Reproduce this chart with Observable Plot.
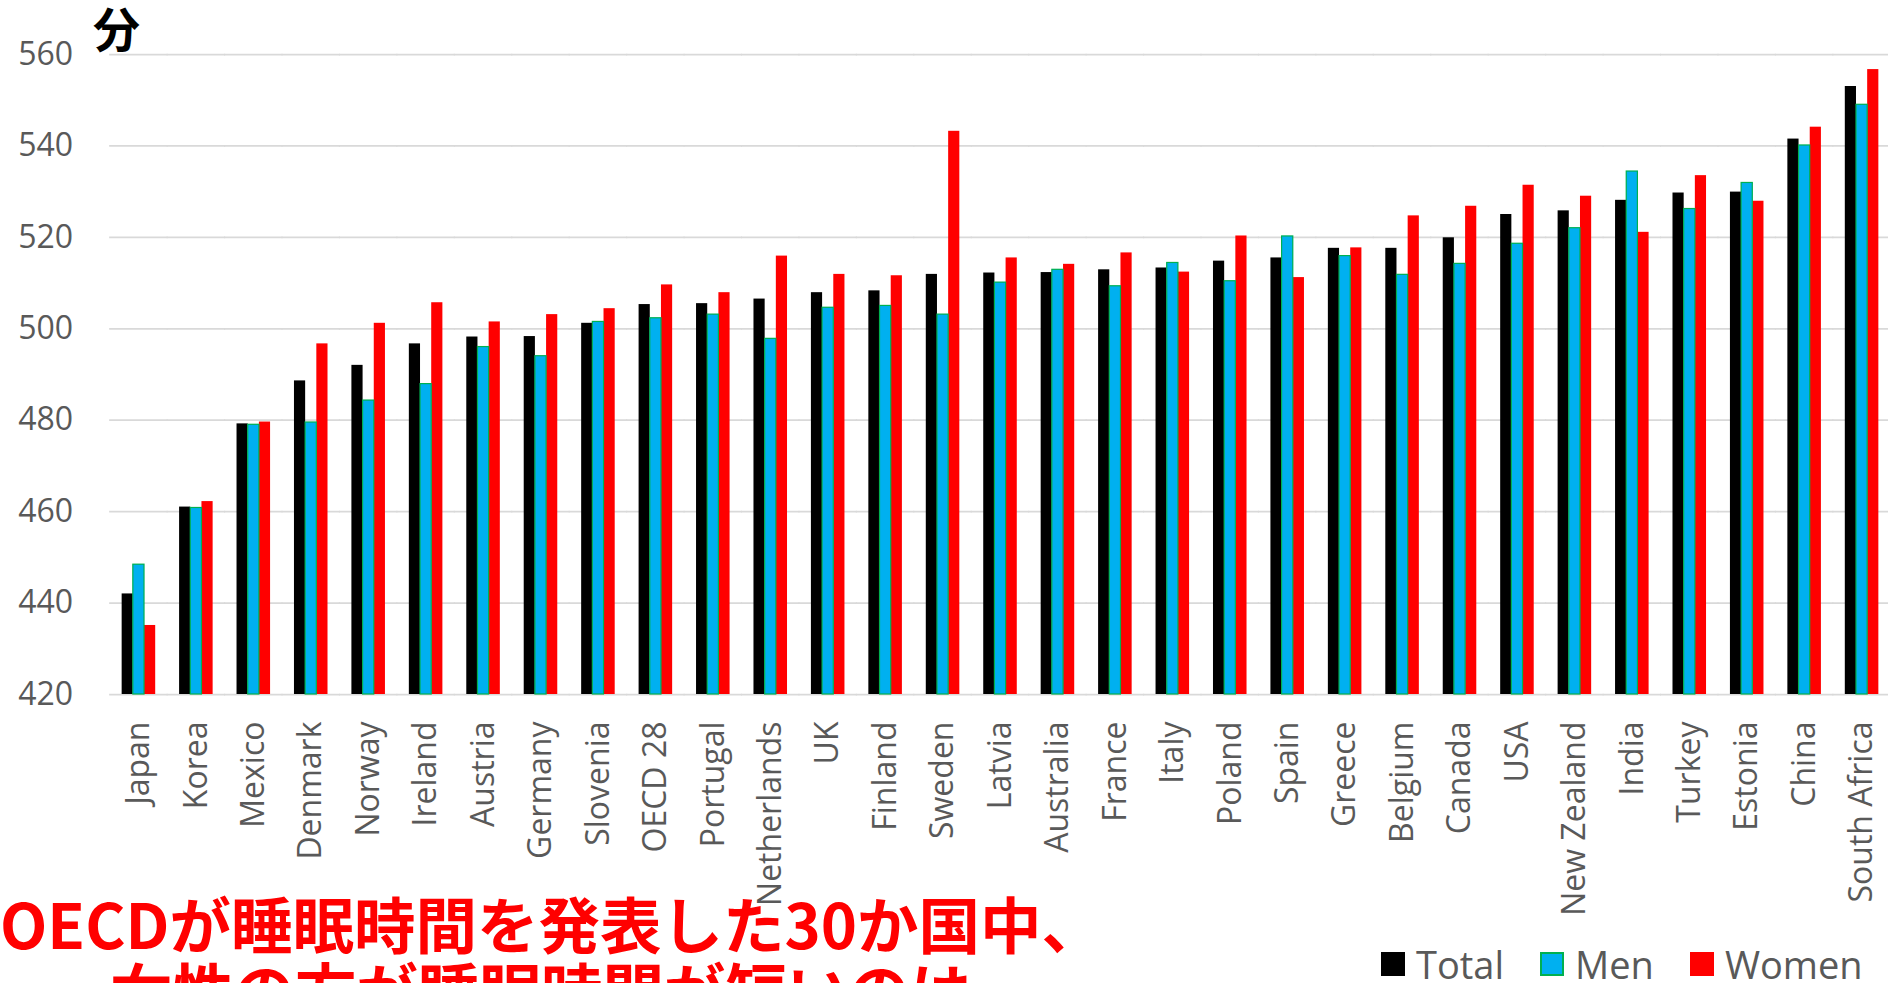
<!DOCTYPE html>
<html>
<head>
<meta charset="utf-8">
<script src="https://cdn.jsdelivr.net/npm/d3@7"></script>
<script src="https://cdn.jsdelivr.net/npm/@observablehq/plot@0.6"></script>
<style>
html, body { margin: 0; padding: 0; background: #fff; overflow: hidden; }
#wrap { position: relative; width: 1888px; height: 983px; overflow: hidden; background: #fff; }
#chart { position: absolute; left: 0; top: 0; }
.unit { position: absolute; left: 93px; top: 3px; font-family: "Noto Sans CJK JP", sans-serif; font-weight: 700; font-size: 47px; line-height: 47px; color: #000; }
.headline { position: absolute; left: 0; top: 890px; width: 1060px; text-align: center; font-family: "Noto Sans CJK JP", sans-serif; font-weight: 700; font-size: 61.5px; line-height: 66px; color: #ff0000; white-space: nowrap; }
.headline .l2 { padding-left: 22px; }
.legend { position: absolute; left: 1381px; top: 945px; display: flex; align-items: center; font-family: "Open Sans", sans-serif; font-size: 38px; line-height: 38px; color: #595959; white-space: nowrap; }
.legend .item { display: flex; align-items: center; margin-right: 36px; }
.legend .item:last-child { margin-right: 0; }
.legend .sw { width: 24px; height: 24px; box-sizing: border-box; margin-right: 11px; }
</style>
</head>
<body>
<div id="wrap">
  <div id="chart"></div>
  <div class="unit">分</div>
  <div class="headline" id="headline"></div>
  <div class="legend" id="legend"></div>
</div>
<script>
const countries = ["Japan","Korea","Mexico","Denmark","Norway","Ireland","Austria","Germany","Slovenia","OECD 28","Portugal","Netherlands","UK","Finland","Sweden","Latvia","Australia","France","Italy","Poland","Spain","Greece","Belgium","Canada","USA","New Zealand","India","Turkey","Estonia","China","South Africa"];
const total = [442.0, 461.0, 479.2, 488.6, 492.0, 496.7, 498.2, 498.3, 501.2, 505.3, 505.5, 506.5, 507.9, 508.3, 511.9, 512.2, 512.3, 512.9, 513.3, 514.8, 515.5, 517.6, 517.6, 519.9, 525.0, 525.8, 528.1, 529.7, 529.9, 541.5, 553.0];
const men = [448.4, 460.8, 479.0, 479.5, 484.3, 487.9, 496.0, 494.0, 501.5, 502.3, 503.1, 497.8, 504.6, 505.0, 503.1, 510.1, 512.9, 509.3, 514.4, 510.4, 520.2, 515.9, 511.8, 514.2, 518.6, 522.0, 534.4, 526.2, 531.9, 540.1, 549.0];
const women = [435.1, 462.2, 479.6, 496.7, 501.2, 505.7, 501.5, 503.1, 504.4, 509.6, 507.9, 515.9, 511.9, 511.6, 543.2, 515.5, 514.1, 516.6, 512.4, 520.3, 511.2, 517.7, 524.7, 526.8, 531.4, 529.0, 521.1, 533.5, 527.9, 544.1, 556.7];
const series = ["Total","Men","Women"];
const seriesFill = ["#000000","#00B0F0","#FF0000"];
const seriesStroke = ["#000000","#00B050","#FF0000"];
const yTicks = [420, 440, 460, 480, 500, 520, 540, 560];
const headlineLines = ["OECDが睡眠時間を発表した30か国中、", "女性の方が睡眠時間が短いのは"];

const values = {Total: total, Men: men, Women: women};
const rows = countries.flatMap((c, i) => series.map(s => ({country: c, series: s, value: values[s][i]})));

const chart = Plot.plot({
  width: 1888,
  height: 983,
  marginLeft: 112,
  marginRight: 0,
  marginTop: 54,
  marginBottom: 289,
  style: {background: "transparent", color: "#595959", overflow: "visible"},
  fx: {domain: countries, paddingInner: 0.416, paddingOuter: 0.168, round: false, label: null},
  x: {domain: series, padding: 0, round: false, axis: null},
  y: {domain: [420, 560], clamp: true, label: null},
  color: {domain: series, range: seriesFill},
  marks: [
    Plot.ruleY(yTicks, {stroke: "#d9d9d9", strokeWidth: 1.75, insetLeft: -12.5, insetRight: -12.5}),
    Plot.barY(rows, {fx: "country", x: "series", y: "value", fill: "series"}),
    Plot.barY(rows.filter(d => d.series === "Men"), {fx: "country", x: "series", y: "value", fill: "series", stroke: seriesStroke[1], strokeWidth: 1.2}),
    Plot.axisY(yTicks, {anchor: "left", tickSize: 0, tickPadding: 49, fontSize: 32, fontFamily: "Open Sans", label: null}),
    Plot.axisFx({anchor: "bottom", tickRotate: -90, tickSize: 0, tickPadding: 27, fontSize: 32, fontFamily: "Open Sans", label: null})
  ]
});
document.getElementById("chart").appendChild(chart);

document.getElementById("headline").innerHTML = headlineLines.map((t, i) => `<div class="l${i + 1}">${t}</div>`).join("");
document.getElementById("legend").innerHTML = series.map((s, i) =>
  `<div class="item"><div class="sw" style="background:${seriesFill[i]};border:${i === 1 ? 2 : 0}px solid ${seriesStroke[i]}"></div><span>${s}</span></div>`
).join("");
</script>
</body>
</html>
